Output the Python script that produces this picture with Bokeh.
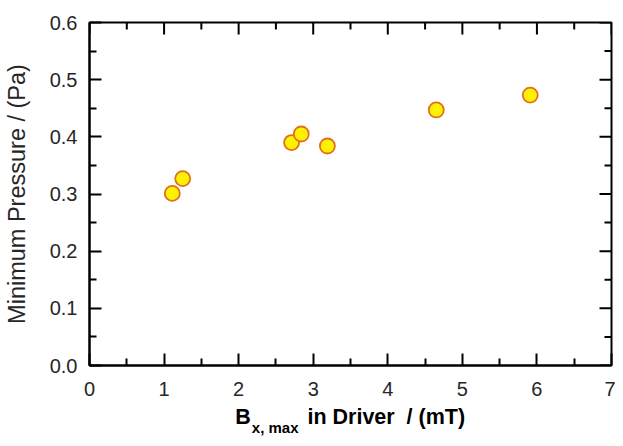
import math
from bokeh.plotting import figure
from bokeh.models import Range1d, LinearAxis, FixedTicker, PrintfTickFormatter
from bokeh.embed import file_html
from bokeh.resources import INLINE

# data
bx_max = [1.11, 1.25, 2.71, 2.84, 3.19, 4.65, 5.91]
p_min = [0.301, 0.327, 0.390, 0.405, 0.384, 0.447, 0.473]

x_ticks = [0, 1, 2, 3, 4, 5, 6, 7]
x_minor = [0.5, 1.5, 2.5, 3.5, 4.5, 5.5, 6.5]
y_ticks = [0.0, 0.1, 0.2, 0.3, 0.4, 0.5, 0.6]
y_minor = [0.05, 0.15, 0.25, 0.35, 0.45, 0.55]

x_label_main = "B"
x_label_sub = "x, max"
x_label_rest = "in Driver\u00a0 / (mT)"
y_label = "Minimum Pressure / (Pa)"

FONT = "Liberation Sans"
X0, X1, Y0, Y1 = 0, 7, 0, 0.6

p = figure(width=615, height=438, x_range=Range1d(X0, X1), y_range=Range1d(Y0, Y1),
           output_backend="svg", toolbar_location=None,
           min_border_left=89, min_border_right=4, min_border_top=22, min_border_bottom=71,
           x_axis_location=None, y_axis_location=None)
p.grid.visible = False
p.outline_line_color = "black"
p.outline_line_width = 2
p.background_fill_color = "white"
p.border_fill_color = "white"


def style_axis(ax):
    ax.axis_line_color = "black"
    ax.axis_line_width = 2
    ax.major_tick_line_color = "black"
    ax.major_tick_line_width = 2
    ax.minor_tick_line_color = "black"
    ax.minor_tick_line_width = 2
    ax.major_tick_in = 12
    ax.major_tick_out = 0
    ax.minor_tick_in = 7
    ax.minor_tick_out = 0
    ax.major_label_text_font = FONT
    ax.major_label_text_font_size = "20px"
    ax.major_label_text_color = "#262626"
    return ax


xb = style_axis(LinearAxis(ticker=FixedTicker(ticks=x_ticks, minor_ticks=x_minor)))
xb.formatter = PrintfTickFormatter(format="%d")
xb.major_label_standoff = 16
p.add_layout(xb, "below")

yl = style_axis(LinearAxis(ticker=FixedTicker(ticks=y_ticks, minor_ticks=y_minor)))
yl.formatter = PrintfTickFormatter(format="%.1f")
yl.major_label_standoff = 12
yl.axis_label = y_label
yl.axis_label_text_font = FONT
yl.axis_label_text_font_size = "23.5px"
yl.axis_label_text_font_style = "normal"
yl.axis_label_text_color = "#262626"
yl.axis_label_standoff = 17
p.add_layout(yl, "left")


# x-axis title with a subscript, set as text rows below the axis
def text_row(positions, texts, size, standoff):
    ax = LinearAxis(ticker=FixedTicker(ticks=positions, minor_ticks=[]))
    ax.major_label_overrides = {pos: t for pos, t in zip(positions, texts)}
    ax.axis_line_color = None
    ax.major_tick_line_color = None
    ax.minor_tick_line_color = None
    ax.major_tick_in = 0
    ax.major_tick_out = 0
    ax.minor_tick_in = 0
    ax.minor_tick_out = 0
    ax.major_label_text_font = FONT
    ax.major_label_text_font_size = size
    ax.major_label_text_font_style = "bold"
    ax.major_label_text_color = "black"
    ax.major_label_standoff = standoff
    return ax


# subscript row first, then the main row pulled back up above it
p.add_layout(text_row([2.49], [x_label_sub], "15px", 20), "below")
p.add_layout(text_row([2.06, 3.98], [x_label_main, x_label_rest], "21.5px", -34), "below")

# mirrored ticks on the top and right frame edges
p.ray(x=x_ticks, y=[Y1] * len(x_ticks), length=12, length_units="screen",
      angle=-math.pi / 2, line_color="black", line_width=2)
p.ray(x=x_minor, y=[Y1] * len(x_minor), length=7, length_units="screen",
      angle=-math.pi / 2, line_color="black", line_width=2)
p.ray(x=[X1] * len(y_ticks), y=y_ticks, length=12, length_units="screen",
      angle=math.pi, line_color="black", line_width=2)
p.ray(x=[X1] * len(y_minor), y=y_minor, length=7, length_units="screen",
      angle=math.pi, line_color="black", line_width=2)

p.scatter(bx_max, p_min, size=15, fill_color="#FFF200", line_color="#E0701E", line_width=1.8)

open("out.html", "w").write(file_html(p, INLINE))
